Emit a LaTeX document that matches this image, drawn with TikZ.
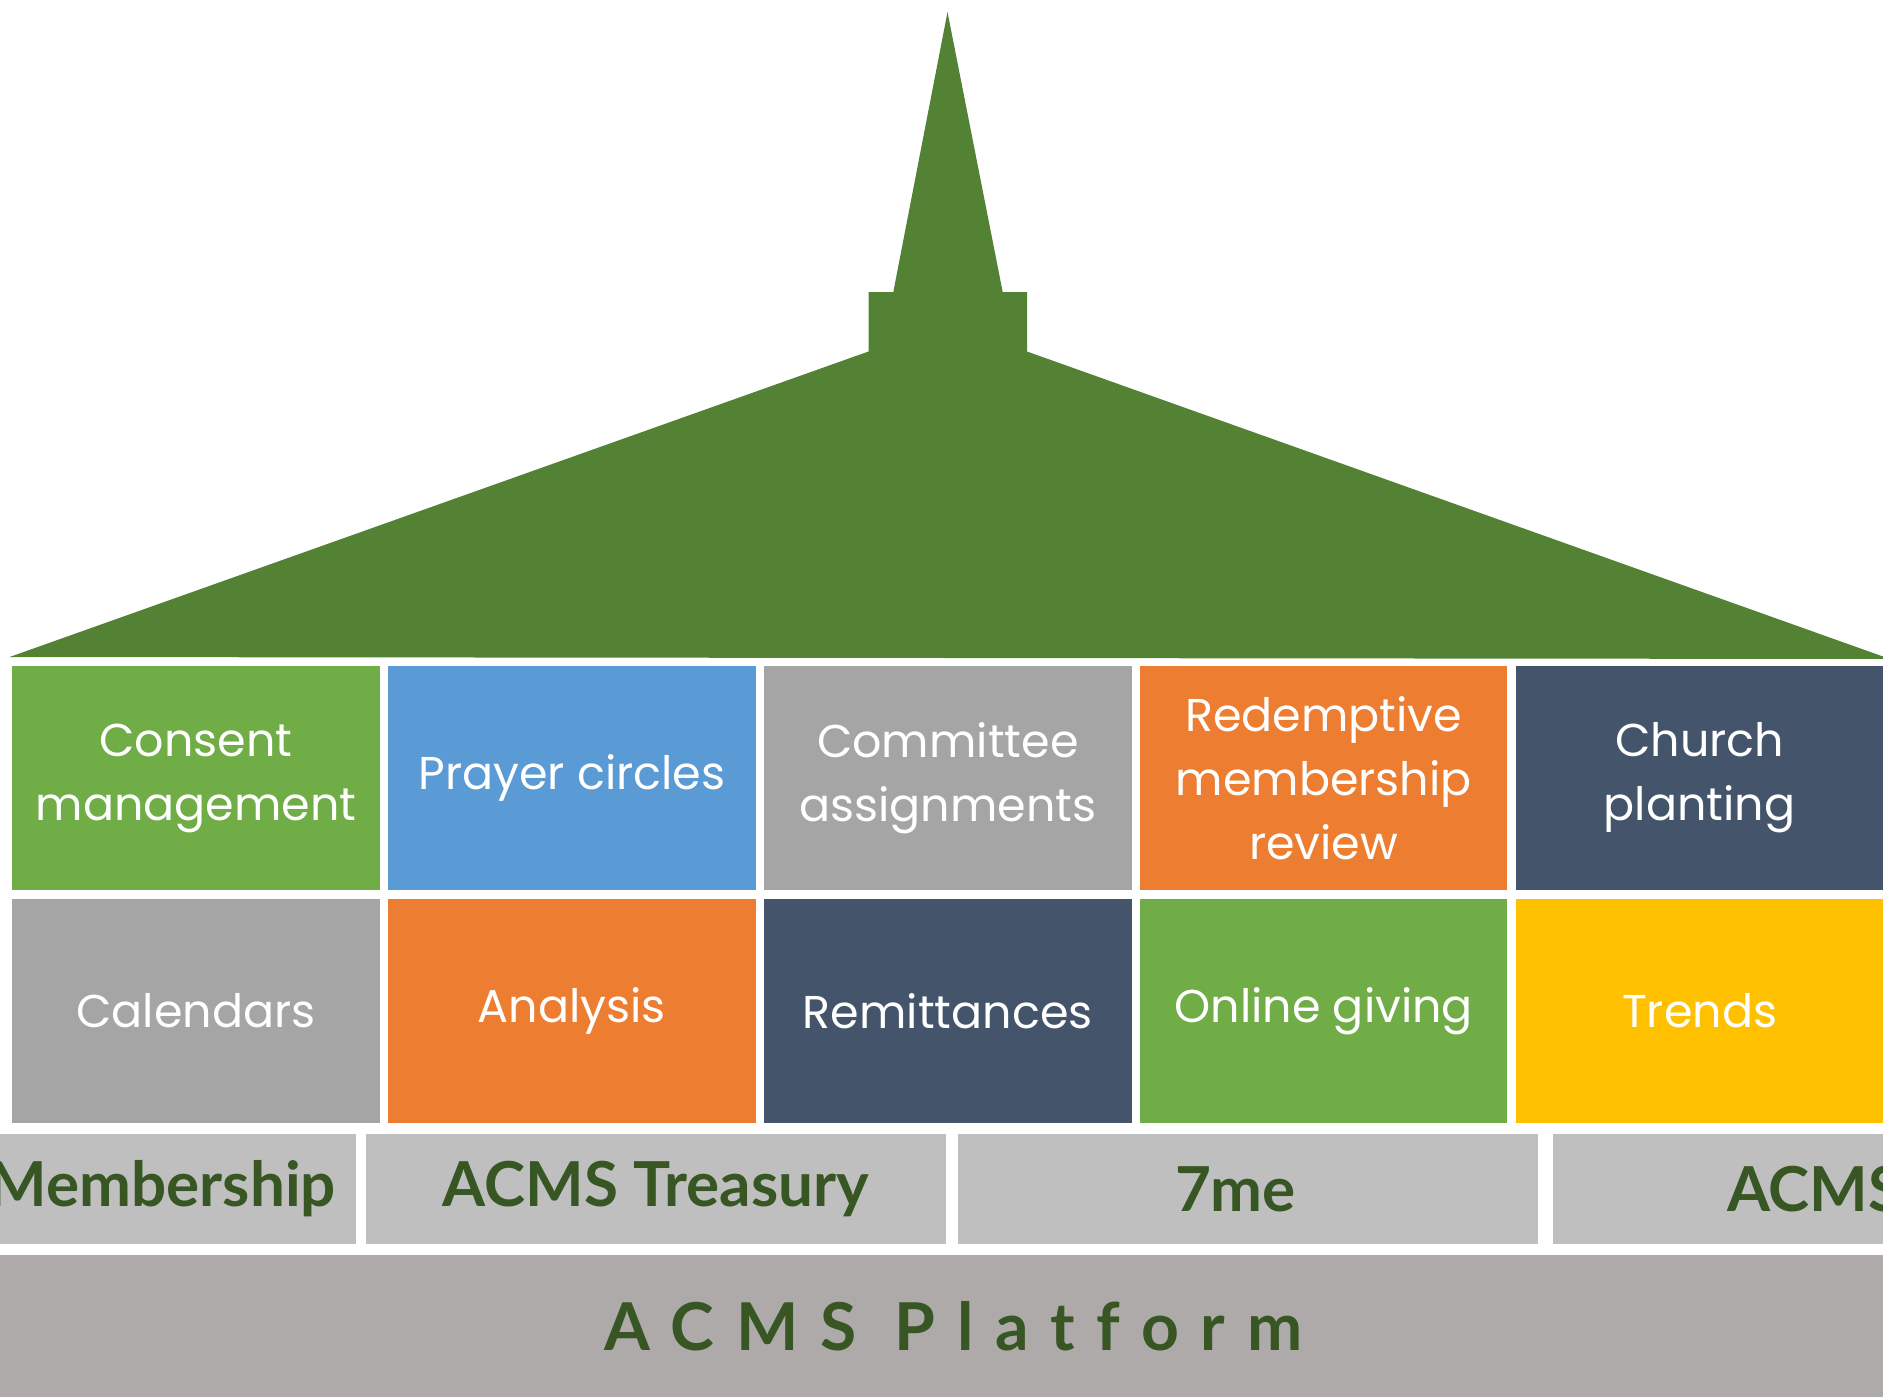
\documentclass[tikz,border=0pt]{standalone}
\usepackage{fontspec}
\setmainfont{Poppins}
\newfontfamily\barfont{Lato}
\newfontfamily\platformfont{Lato}[LetterSpace=33,Ligatures=NoCommon]

\definecolor{roofgreen}{HTML}{548235}
\definecolor{boxgreen}{HTML}{70AD47}
\definecolor{boxblue}{HTML}{5B9BD5}
\definecolor{boxgray}{HTML}{A5A5A5}
\definecolor{boxorange}{HTML}{ED7D31}
\definecolor{boxnavy}{HTML}{44546A}
\definecolor{boxyellow}{HTML}{FFC000}
\definecolor{bargray}{HTML}{BFBFBF}
\definecolor{basegray}{HTML}{AEAAAA}
\definecolor{textgreen}{HTML}{375623}

\begin{document}
\begin{tikzpicture}[x=1pt,y=1pt,node distance=375.9pt,
top box/.style={minimum width=367.5pt,minimum height=224pt,inner sep=0pt,
  align=center,text=white,font=\fontsize{46}{64}\selectfont},
bar box/.style={fill=bargray,minimum width=580pt,minimum height=110pt,inner sep=0pt,
  text=textgreen,font=\barfont\bfseries\fontsize{62}{70}\selectfont},
bar text/.style={inner sep=0pt,text=textgreen,font=\barfont\bfseries\fontsize{62}{70}\selectfont}]

\useasboundingbox (0,0) rectangle (1883,-1397);
\clip (0,0) rectangle (1883,-1397);

% roof with spire
\fill[roofgreen] (947.5,-12) -- (1002.7,-292) -- (1027,-292) -- (1027,-351.5)
  -- (1890,-659) -- (9.6,-657) -- (868.5,-351.5) -- (868.5,-292) -- (893.3,-292) -- cycle;

% upper row
\node[top box,fill=boxgreen] (consent) at (196,-778) {Consent\\management};
\node[top box,fill=boxblue] (prayer) [right of=consent] {Prayer circles};
\node[top box,fill=boxgray] (committee) [right of=prayer] {Committee\\assignments};
\node[top box,fill=boxorange] (redemptive) [right of=committee] {Redemptive\\membership\\review};
\node[top box,fill=boxnavy] (planting) [right of=redemptive] {Church\\planting};

% lower row
\node[top box,fill=boxgray] (calendars) [node distance=233pt,below of=consent] {Calendars};
\node[top box,fill=boxorange] (analysis) [right of=calendars] {Analysis};
\node[top box,fill=boxnavy] (remittances) [right of=analysis] {Remittances};
\node[top box,fill=boxgreen] (giving) [right of=remittances] {Online giving};
\node[top box,fill=boxyellow] (trends) [right of=giving] {Trends};

% products
\node[bar box] (treasury) at (656,-1189) {ACMS Treasury};
\node[bar box] (membership) [node distance=590.5pt,left of=treasury] {};
\node[bar box] (sevenme) [node distance=591.5pt,right of=treasury] {};
\node[bar box] (acms) [node distance=595.5pt,right of=sevenme] {};
\node[bar text,anchor=east] (membershiptext) at ([xshift=-19.5pt]membership.east) {Membership};
\node[bar text] (sevenmetext) at ([xshift=-12pt]sevenme.center) {7me};
\node[bar text,anchor=west] (acmstext) at ([xshift=174pt]acms.west) {ACMS};

% platform
\node[fill=basegray,minimum width=1883pt,minimum height=142pt,inner sep=0pt]
  (platform) at (941.5,-1326) {};
\node[inner sep=0pt,text=textgreen,font=\platformfont\bfseries\fontsize{66}{70}\selectfont]
  (platformtext) at ([xshift=12pt]platform.center) {ACMS Platform};
\end{tikzpicture}
\end{document}
